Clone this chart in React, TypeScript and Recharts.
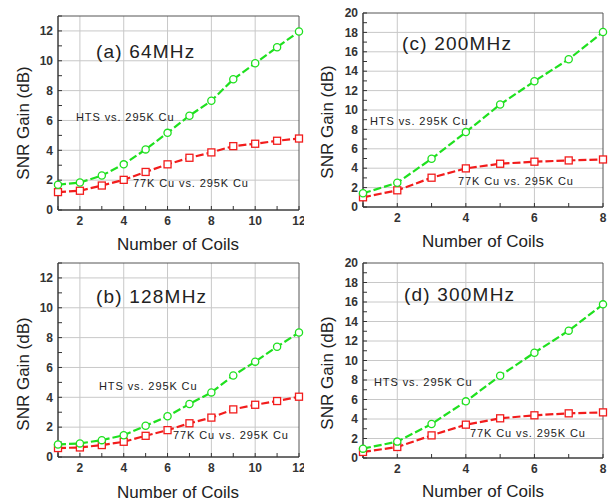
import React from "react";
import { CartesianGrid, Line, LineChart, ReferenceArea, XAxis, YAxis } from "recharts";

const coils12 = [1, 2, 3, 4, 5, 6, 7, 8, 9, 10, 11, 12];
const coils8 = [1, 2, 3, 4, 5, 6, 7, 8];

// (a) 64 MHz
const hts64 = [1.69, 1.84, 2.31, 3.06, 4.06, 5.17, 6.32, 7.32, 8.76, 9.83, 10.91, 11.96];
const cu64 = [1.2, 1.29, 1.64, 2.02, 2.55, 3.06, 3.5, 3.86, 4.28, 4.44, 4.64, 4.79];
// (b) 128 MHz
const hts128 = [0.84, 0.91, 1.13, 1.46, 2.09, 2.73, 3.55, 4.33, 5.46, 6.39, 7.39, 8.34];
const cu128 = [0.6, 0.64, 0.8, 1.02, 1.42, 1.8, 2.26, 2.64, 3.19, 3.5, 3.75, 4.04];
// (c) 200 MHz
const hts200 = [1.41, 2.5, 4.97, 7.72, 10.57, 12.97, 15.23, 18.04];
const cu200 = [1.0, 1.72, 3.02, 3.98, 4.46, 4.67, 4.8, 4.9];
// (d) 300 MHz
const hts300 = [0.96, 1.68, 3.49, 5.81, 8.44, 10.8, 13.06, 15.76];
const cu300 = [0.62, 1.13, 2.32, 3.42, 4.07, 4.38, 4.58, 4.68];

const yTicks13 = [0, 1, 2, 3, 4, 5, 6, 7, 8, 9, 10, 11, 12, 13];
const yTicks20 = [0, 1, 2, 3, 4, 5, 6, 7, 8, 9, 10, 11, 12, 13, 14, 15, 16, 17, 18, 19, 20];

const GREEN = "#1fe01f";
const RED = "#f21c1c";
const FONT = "Arial, 'Liberation Sans', sans-serif";

function rows(coils: number[], hts: number[], cu: number[]) {
  return coils.map((n, i) => ({ n, hts: hts[i], cu: cu[i] }));
}

const SquareDot = (p: any) => {
  if (p.cx == null || p.cy == null) return <g key={p.index} />;
  return (
    <rect
      key={p.index}
      x={p.cx - 3.5}
      y={p.cy - 3.5}
      width={7}
      height={7}
      fill="#fff"
      stroke={RED}
      strokeWidth={1.3}
    />
  );
};

type PanelProps = {
  left: number;
  top: number;
  height: number;
  marginTop: number;
  axisW: number;
  axisH: number;
  data: { n: number; hts: number; cu: number }[];
  xMax: number;
  yMax: number;
  yTicks: number[];
};

function Panel({ left, top, height, marginTop, axisW, axisH, data, xMax, yMax, yTicks }: PanelProps) {
  const xTicks = data.map((d) => d.n);
  const hGrid = yTicks.filter((v) => v > 0 && v < yMax && v % 2 === 0);
  const vGrid = xTicks.filter((v) => v > 1 && v < xMax && v % 2 === 0);
  return (
    <div style={{ position: "absolute", left, top }}>
      <LineChart
        width={304}
        height={height}
        data={data}
        margin={{ top: marginTop, right: 5, left: 0, bottom: 0 }}
        style={{ overflow: "visible" }}
      >
        <CartesianGrid
          stroke="#c8c8c8"
          strokeWidth={1}
          horizontalValues={hGrid}
          verticalValues={vGrid}
        />
        <XAxis
          dataKey="n"
          type="number"
          domain={[1, xMax]}
          ticks={xTicks}
          interval={0}
          height={axisH}
          tickSize={-4}
          tickMargin={10}
          stroke="#333"
          tickFormatter={(v: number) => (v % 2 === 0 ? String(v) : "")}
          tick={{ fill: "#333", fontSize: 12, fontFamily: FONT, fontWeight: 600 }}
        />
        <YAxis
          type="number"
          domain={[0, yMax]}
          ticks={yTicks}
          interval={0}
          width={axisW}
          tickSize={-4}
          tickMargin={9}
          stroke="#333"
          tickFormatter={(v: number) => (v % 2 === 0 ? String(v) : "")}
          tick={{ fill: "#333", fontSize: 12, fontFamily: FONT, fontWeight: 600 }}
        />
        <ReferenceArea x1={1} x2={xMax} y1={0} y2={yMax} fill="none" stroke="#555" strokeWidth={1} ifOverflow="visible" />
        <Line
          dataKey="cu"
          stroke={RED}
          strokeWidth={2.2}
          strokeDasharray="8 3"
          dot={SquareDot}
          isAnimationActive={false}
        />
        <Line
          dataKey="hts"
          stroke={GREEN}
          strokeWidth={2.2}
          strokeDasharray="8 3"
          dot={{ r: 3.6, fill: "#fff", stroke: GREEN, strokeWidth: 1.3, strokeDasharray: "" }}
          isAnimationActive={false}
        />
      </LineChart>
    </div>
  );
}

const titleStyle = { fontFamily: FONT, fontSize: 19, letterSpacing: 1.2, fill: "#222" };
const noteStyle = { fontFamily: FONT, fontSize: 11, letterSpacing: 0.9, fill: "#222" };
const axisTitleStyle = { fontFamily: FONT, fontSize: 17, fill: "#222" };

export default function App() {
  return (
    <div style={{ position: "absolute", left: 0, top: 0, width: 608, height: 502, background: "#fff" }}>
      <Panel left={0} top={0} height={250} marginTop={16} axisW={58} axisH={40}
        data={rows(coils12, hts64, cu64)} xMax={12} yMax={13} yTicks={yTicks13} />
      <Panel left={304} top={0} height={250} marginTop={13} axisW={59} axisH={43}
        data={rows(coils8, hts200, cu200)} xMax={8} yMax={20} yTicks={yTicks20} />
      <Panel left={0} top={250} height={252} marginTop={13} axisW={58} axisH={45}
        data={rows(coils12, hts128, cu128)} xMax={12} yMax={13} yTicks={yTicks13} />
      <Panel left={304} top={250} height={252} marginTop={13} axisW={59} axisH={44}
        data={rows(coils8, hts300, cu300)} xMax={8} yMax={20} yTicks={yTicks20} />
      <svg width={608} height={502} style={{ position: "absolute", left: 0, top: 0, pointerEvents: "none" }}>
        <text x={96} y={58} style={titleStyle}>(a) 64MHz</text>
        <text x={402} y={50} style={titleStyle}>(c) 200MHz</text>
        <text x={96} y={303} style={titleStyle}>(b) 128MHz</text>
        <text x={404} y={301} style={titleStyle}>(d) 300MHz</text>

        <text x={76} y={121} style={noteStyle}>HTS vs. 295K Cu</text>
        <text x={133} y={187} style={noteStyle}>77K Cu vs. 295K Cu</text>
        <text x={370} y={125} style={noteStyle}>HTS vs. 295K Cu</text>
        <text x={458} y={185} style={noteStyle}>77K Cu vs. 295K Cu</text>
        <text x={99} y={390} style={noteStyle}>HTS vs. 295K Cu</text>
        <text x={173} y={439} style={noteStyle}>77K Cu vs. 295K Cu</text>
        <text x={374} y={386} style={noteStyle}>HTS vs. 295K Cu</text>
        <text x={470} y={437} style={noteStyle}>77K Cu vs. 295K Cu</text>

        <text x={178} y={250} textAnchor="middle" style={axisTitleStyle}>Number of Coils</text>
        <text x={483} y={247} textAnchor="middle" style={axisTitleStyle}>Number of Coils</text>
        <text x={178} y={498} textAnchor="middle" style={axisTitleStyle}>Number of Coils</text>
        <text x={483} y={497} textAnchor="middle" style={axisTitleStyle}>Number of Coils</text>

        <text transform="translate(29,123) rotate(-90)" textAnchor="middle" style={axisTitleStyle}>SNR Gain (dB)</text>
        <text transform="translate(333,122) rotate(-90)" textAnchor="middle" style={axisTitleStyle}>SNR Gain (dB)</text>
        <text transform="translate(29,374) rotate(-90)" textAnchor="middle" style={axisTitleStyle}>SNR Gain (dB)</text>
        <text transform="translate(333,373) rotate(-90)" textAnchor="middle" style={axisTitleStyle}>SNR Gain (dB)</text>
      </svg>
    </div>
  );
}
